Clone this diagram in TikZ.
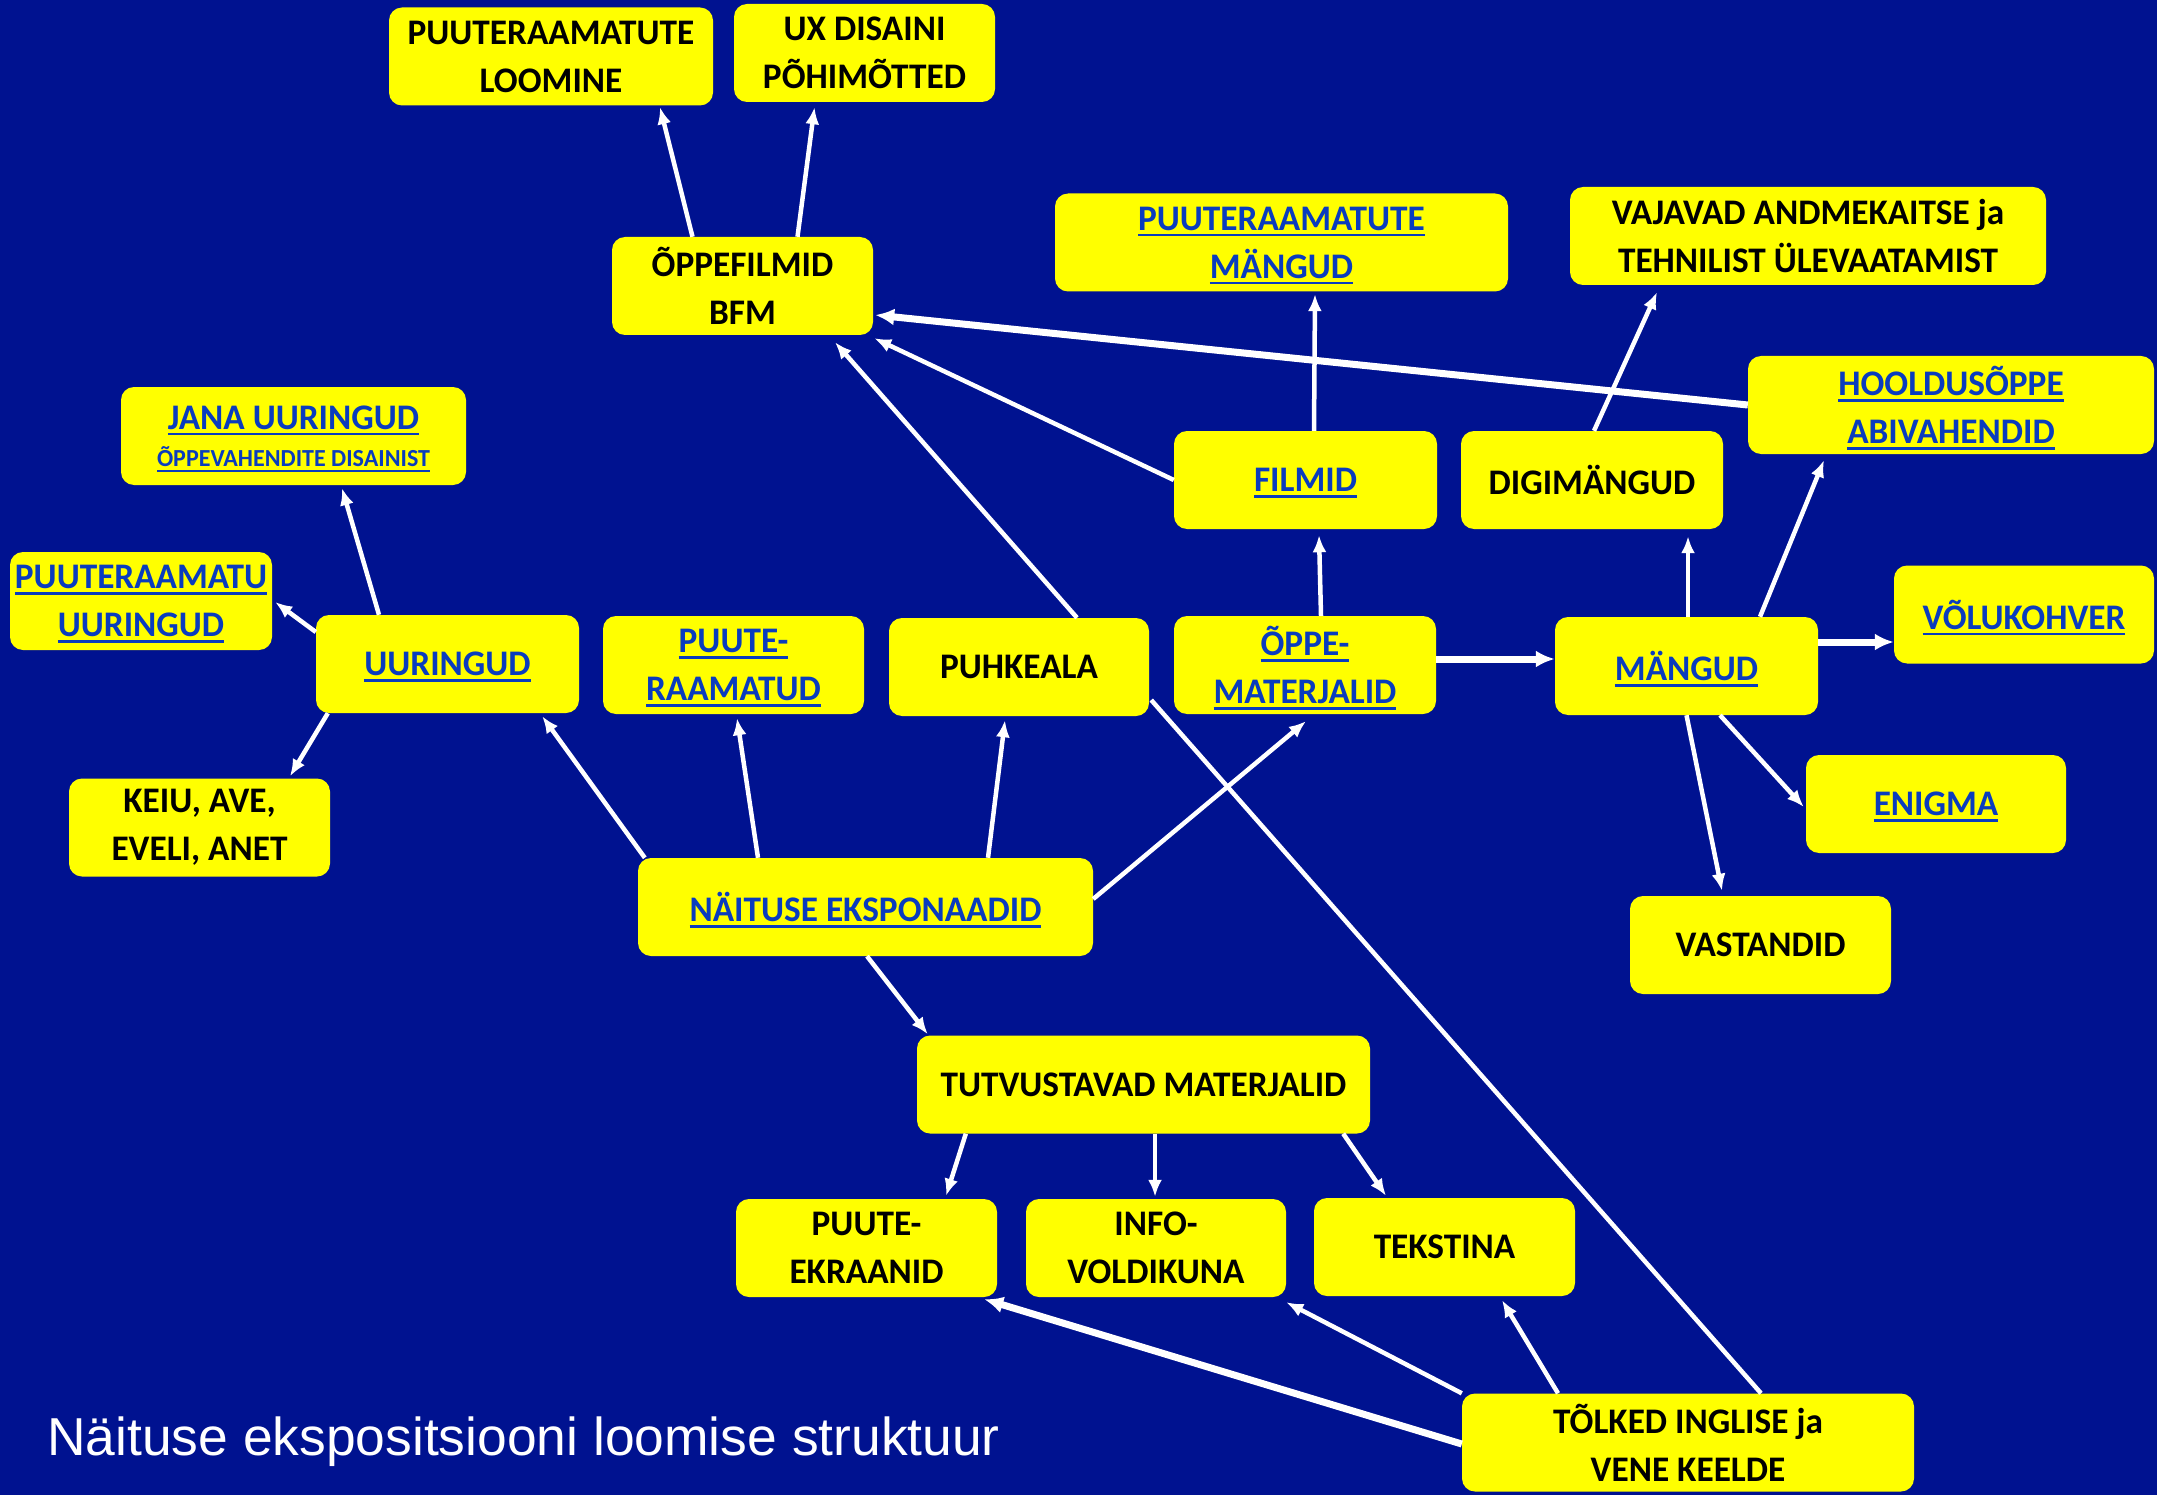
\documentclass[tikz,border=0pt]{standalone}
\usepackage{fontspec}
\usetikzlibrary{arrows.meta}
\setmainfont{Liberation Sans}
\newfontfamily\boxfont{Carlito}[UprightFont={* Bold},FakeStretch=0.98]
\definecolor{bg}{RGB}{0,18,144}
\definecolor{lnk}{RGB}{10,60,190}
\definecolor{ylw}{RGB}{255,255,0}
\newsavebox\lkbox
\newcommand{\lk}[1]{{\color{lnk}\sbox\lkbox{#1}\rlap{\smash{\rule[-6pt]{\wd\lkbox}{2.5pt}}}\usebox\lkbox}}
\begin{document}
\begin{tikzpicture}[x=1pt,y=-1pt,
  box/.style={fill=ylw, rounded corners=13pt, inner sep=0pt, minimum height=98pt,
    align=center, font=\boxfont\fontsize{36}{48}\selectfont, text=black},
  arr/.style={draw=white, line width=4.5pt, -{Latex[length=17pt,width=14pt]}},
  arrthick/.style={draw=white, line width=7pt, -{Latex[length=19pt,width=17pt]}},
  plain/.style={draw=white, line width=4.5pt}]
\fill[bg] (0,0) rectangle (2157,1495);
\useasboundingbox (0,0) rectangle (2157,1495);

\node[box,minimum width=324pt] (loom) at (551,56.5) {PUUTERAAMATUTE\\LOOMINE};
\node[box,minimum width=261pt] (ux) at (864.5,53) {UX DISAINI\\PÕHIMÕTTED};
\node[box,minimum width=261pt] (of) at (742.5,286) {ÕPPEFILMID\\BFM};
\node[box,minimum width=453pt] (pm) at (1281.5,242.5) {\lk{PUUTERAAMATUTE}\\\lk{MÄNGUD}};
\node[box,minimum width=476pt] (vaj) at (1808,236) {VAJAVAD ANDMEKAITSE ja\\TEHNILIST ÜLEVAATAMIST};
\node[box,minimum width=345pt] (jana) at (293.5,436) {\lk{JANA UURINGUD}\\[-11pt]{\fontsize{24.5}{28}\selectfont\lk{ÕPPEVAHENDITE DISAINIST}}};
\node[box,minimum width=406pt] (hool) at (1951,405) {\lk{HOOLDUSÕPPE}\\\lk{ABIVAHENDID}};
\node[box,minimum width=263pt] (film) at (1305.5,480) {\lk{FILMID}};
\node[box,minimum width=262pt] (digi) at (1592,480) {DIGIMÄNGUD};
\node[box,minimum width=262pt] (pru) at (141,601) {\lk{PUUTERAAMATU}\\\lk{UURINGUD}};
\node[box,minimum width=263pt] (uu) at (447.5,664) {\lk{UURINGUD}};
\node[box,minimum width=261pt] (pr) at (733.5,665) {\lk{PUUTE-}\\\lk{RAAMATUD}};
\node[box,minimum width=260pt] (puh) at (1019,667) {PUHKEALA};
\node[box,minimum width=262pt] (om) at (1305,665) {\lk{ÕPPE-}\\\lk{MATERJALID}};
\node[box,minimum width=263pt] (mg) at (1686.5,666) {\lk{MÄNGUD}};
\node[box,minimum width=260pt] (volu) at (2024,614.5) {\lk{VÕLUKOHVER}};
\node[box,minimum width=261pt] (keiu) at (199.5,827.5) {KEIU, AVE,\\EVELI, ANET};
\node[box,minimum width=260pt] (enig) at (1936,804) {\lk{ENIGMA}};
\node[box,minimum width=455pt] (nae) at (865.5,907) {\lk{NÄITUSE EKSPONAADID}};
\node[box,minimum width=261pt] (vast) at (1760.5,945) {VASTANDID};
\node[box,minimum width=453pt] (tut) at (1143.5,1084.5) {TUTVUSTAVAD MATERJALID};
\node[box,minimum width=261pt] (pe) at (866.5,1248) {PUUTE-\\EKRAANID};
\node[box,minimum width=260pt] (info) at (1156,1248) {INFO-\\VOLDIKUNA};
\node[box,minimum width=261pt] (tek) at (1444.5,1247) {TEKSTINA};
\node[box,minimum width=452pt] (tol) at (1688,1442.5) {TÕLKED INGLISE ja\\VENE KEELDE};

\node[anchor=base west, text=white, font=\fontsize{53.4}{60}\selectfont, inner sep=0pt] (title) at (47,1455) {Näituse ekspositsiooni loomise struktuur};

\draw[arr] ([xshift=-50pt]of.north) -- ([xshift=109pt,yshift=-1.5pt]loom.south);
\draw[arr] ([xshift=55pt]of.north) -- ([xshift=-50pt,yshift=-5pt]ux.south);
\draw[arrthick] (hool.west) -- ([xshift=2pt,yshift=-29pt]of.east);
\draw[arr] (film.west) -- ([xshift=1pt,yshift=-3pt]of.south east);
\draw[arr] ([xshift=58pt]puh.north) -- ([xshift=92.5pt,yshift=-7pt]of.south);
\draw[arr] ([xshift=8.5pt]film.north) -- ([xshift=33.5pt,yshift=-2.5pt]pm.south);
\draw[arr] ([xshift=2pt]digi.north) -- ([xshift=-151pt,yshift=-7pt]vaj.south);
\draw[arr] ([xshift=16pt]om.north) -- ([xshift=13.5pt,yshift=-6pt]film.south);
\draw[arr] ([xshift=1.5pt]mg.north) -- ([xshift=96pt,yshift=-7pt]digi.south);
\draw[arr] ([xshift=73.5pt]mg.north) -- ([xshift=-127pt,yshift=-6pt]hool.south);
\draw[arrthick] ([yshift=24pt]mg.east) -- ([yshift=-27.5pt]volu.west);
\draw[arrthick] ([yshift=6pt]om.east) -- ([yshift=7pt]mg.west);
\draw[arr] ([xshift=33.5pt]mg.south) -- ([xshift=-2pt,yshift=-3pt]enig.west);
\draw[arr] (mg.south) -- ([xshift=-38.5pt,yshift=5pt]vast.north);
\draw[arr] ([xshift=-68.5pt]uu.north) -- ([xshift=48.5pt,yshift=-3pt]jana.south);
\draw[arr] ([yshift=32pt]uu.west) -- ([xshift=3pt,yshift=-1pt]pru.east);
\draw[arr] ([xshift=12pt]uu.south west) -- ([xshift=90.5pt,yshift=2pt]keiu.north);
\draw[arr] ([xshift=7pt]nae.north west) -- ([xshift=-37pt,yshift=-3pt]uu.south east);
\draw[arr] ([xshift=-107.5pt]nae.north) -- ([xshift=3.5pt,yshift=-4pt]pr.south);
\draw[arr] ([xshift=122.5pt]nae.north) -- ([xshift=-14pt,yshift=-4pt]puh.south);
\draw[arr] ([yshift=8pt]nae.east) -- ([xshift=1pt,yshift=-7pt]om.south);
\draw[arr] ([xshift=1.5pt]nae.south) -- ([xshift=11pt,yshift=1pt]tut.north west);
\draw[arr] ([xshift=49pt]tut.south west) -- ([xshift=79.5pt,yshift=3pt]pe.north);
\draw[arr] ([xshift=11.5pt]tut.south) -- ([xshift=-1pt,yshift=2pt]info.north);
\draw[arr] ([xshift=-27pt]tut.south east) -- ([xshift=-58.5pt,yshift=2pt]tek.north);
\draw[plain] ([xshift=73pt]tol.north) -- ([xshift=2pt,yshift=-33pt]puh.east);
\draw[arrthick] ([yshift=-1.5pt]tol.west) -- ([xshift=-13pt,yshift=-2pt]pe.south east);
\draw[arr] (tol.north west) -- ([yshift=-5pt]info.south east);
\draw[arr] ([xshift=-130pt]tol.north) -- ([xshift=57.5pt,yshift=-4pt]tek.south);
\end{tikzpicture}
\end{document}
